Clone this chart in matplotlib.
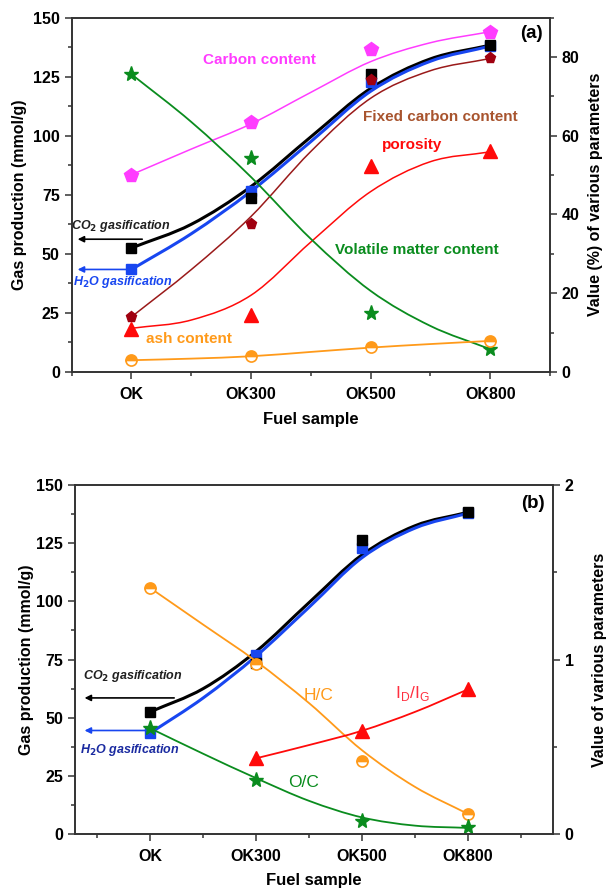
import matplotlib as mpl
mpl.use('Agg')
import matplotlib.pyplot as plt
import numpy as np
from matplotlib.path import Path
from matplotlib.patches import PathPatch
from matplotlib.ticker import MultipleLocator

plt.rcParams['font.family'] = ['Liberation Sans', 'DejaVu Sans']
plt.rcParams['font.weight'] = 'bold'

samples = ['OK', 'OK300', 'OK500', 'OK800']
xpos = [0, 1, 2, 3]
knot_x = [0, 0.5, 1, 1.5, 2, 2.5, 3]

# gas production (mmol/g), measured points
co2_gas = [52.5, 73.5, 126.2, 138.3]
h2o_gas = [43.4, 76.8, 122.8, 137.9]
# fitted curves for gas production
co2_fit = [52.5, 62.5, 78.5, 99.5, 120.0, 132.5, 138.3]
h2o_fit = [43.4, 58.5, 76.5, 97.5, 118.8, 131.5, 137.9]

# panel (a): value (%) of various parameters
carbon = [50.1, 63.4, 81.9, 86.4]
carbon_fit = [50.1, 56.6, 63.0, 71.0, 78.8, 83.6, 86.4]
fixed_c = [14.0, 37.7, 74.1, 79.6]
fixed_c_fit = [14.0, 26.0, 39.5, 56.0, 69.5, 76.5, 79.6]
porosity = [11.0, 14.4, 52.3, 56.2]
porosity_fit = [11.1, 13.2, 19.5, 33.0, 45.8, 53.4, 55.9]
volatile = [75.6, 54.4, 15.0, 5.8]
volatile_fit = [75.6, 63.5, 49.5, 33.8, 20.6, 11.7, 5.8]
ash = [3.0, 4.0, 6.4, 7.9]
ash_fit = [3.0, 3.4, 4.0, 5.1, 6.2, 7.1, 7.9]

# panel (b): value of various parameters
hc = [1.41, 0.975, 0.42, 0.115]
hc_fit = [1.41, 1.20, 0.99, 0.75, 0.48, 0.27, 0.115]
idig_x = [1, 1.5, 2, 2.5, 3]
idig = [0.434, 0.592, 0.829]
idig_fit = [0.434, 0.51, 0.592, 0.70, 0.829]
oc = [0.606, 0.31, 0.072, 0.04]
oc_fit = [0.606, 0.46, 0.32, 0.19, 0.095, 0.048, 0.035]

BLACK = '#000000'
BLUE = '#1846f0'
MAGENTA = '#ff3cff'
DRED = '#a00010'
BROWN = '#a8542e'
RED = '#ff0a0a'
GREEN = '#0a8c1e'
ORANGE = '#ff9a1a'


def smooth_curve(ax, xs, ys, color, lw):
    # Catmull-Rom style bezier through the read points
    pts = np.column_stack([xs, ys]).astype(float)
    n = len(pts)
    ext = np.vstack([2 * pts[0] - pts[1], pts, 2 * pts[-1] - pts[-2]])
    verts = [pts[0]]
    codes = [Path.MOVETO]
    for i in range(n - 1):
        p0, p1, p2, p3 = ext[i], ext[i + 1], ext[i + 2], ext[i + 3]
        verts += [p1 + (p2 - p0) / 6, p2 - (p3 - p1) / 6, p2]
        codes += [Path.CURVE4] * 3
    ax.add_patch(PathPatch(Path(verts, codes), fill=False, edgecolor=color,
                           lw=lw, capstyle='round', joinstyle='round'))


def style_axes(ax, ax2, xlim, rlim, rmajor, rminor):
    ax.set_xlim(*xlim)
    ax.set_ylim(0, 150)
    ax2.set_ylim(*rlim)
    ax.set_xticks(xpos)
    ax.set_xticklabels(samples)
    ax.set_xticks([-0.5, 0.5, 1.5, 2.5, 3.5], minor=True)
    ax.yaxis.set_major_locator(MultipleLocator(25))
    ax.yaxis.set_minor_locator(MultipleLocator(12.5))
    ax2.yaxis.set_major_locator(MultipleLocator(rmajor))
    ax2.yaxis.set_minor_locator(MultipleLocator(rminor))
    for a in (ax, ax2):
        for s in a.spines.values():
            s.set_linewidth(1.2)
            s.set_color('#333333')
        a.tick_params(which='major', direction='out', length=5, width=1.1,
                      color='#333333', labelsize=11.5)
        a.tick_params(which='minor', direction='out', length=3, width=1.1,
                      color='#333333')
    ax.tick_params(axis='x', pad=6)
    for lab in ax.get_xticklabels() + ax.get_yticklabels() + ax2.get_yticklabels():
        lab.set_fontweight('bold')
    ax.set_xlabel('Fuel sample', fontsize=12, fontweight='bold')
    ax.set_ylabel('Gas production (mmol/g)', fontsize=11.5, fontweight='bold')


def gas_series(ax):
    smooth_curve(ax, knot_x, co2_fit, BLACK, 2.2)
    smooth_curve(ax, knot_x, h2o_fit, BLUE, 2.2)
    ax.plot(xpos, h2o_gas, ls='none', marker='s', ms=7.5, color=BLUE)
    ax.plot(xpos, co2_gas, ls='none', marker='s', ms=7.5, color=BLACK)


fig = plt.figure(figsize=(6.1, 8.9), dpi=100)

# ---------------- panel (a) ----------------
ax = fig.add_axes([0.1175, 0.582, 0.7841, 0.3983])
ax2 = ax.twinx()
gas_series(ax)

smooth_curve(ax2, knot_x, carbon_fit, MAGENTA, 1.1)
ax2.plot(xpos, carbon, ls='none', marker='p', ms=10, color=MAGENTA)
smooth_curve(ax2, knot_x, fixed_c_fit, '#9a1a1a', 1.1)
ax2.plot(xpos, fixed_c, ls='none', marker='p', ms=8, color=DRED)
smooth_curve(ax2, knot_x, porosity_fit, RED, 1.1)
ax2.plot(xpos, porosity, ls='none', marker='^', ms=9.5, color=RED)
smooth_curve(ax2, knot_x, volatile_fit, GREEN, 1.3)
ax2.plot(xpos, volatile, ls='none', marker='*', ms=11, color=GREEN)
smooth_curve(ax2, knot_x, ash_fit, ORANGE, 1.3)
ax2.plot(xpos, ash, ls='none', marker='o', ms=8, color=ORANGE,
         fillstyle='top', markerfacecoloralt='white', mec=ORANGE, mew=1.2)

style_axes(ax, ax2, (-0.5, 3.5), (0, 90), 20, 10)
ax2.set_ylabel('Value (%) of various parameters', fontsize=11.5, fontweight='bold')
ax.yaxis.set_label_coords(-0.093, 0.5)
ax2.yaxis.set_label_coords(1.08, 0.5)
ax.xaxis.set_label_coords(0.5, -0.112)

ax.text(1.07, 132.2, 'Carbon content', color=MAGENTA, fontsize=11,
        fontweight='bold', ha='center', va='center')
ax.text(2.585, 107.9, 'Fixed carbon content', color=BROWN, fontsize=11,
        fontweight='bold', ha='center', va='center')
ax.text(2.35, 96.0, 'porosity', color=RED, fontsize=11,
        fontweight='bold', ha='center', va='center')
ax.text(2.39, 51.6, 'Volatile matter content', color=GREEN, fontsize=11,
        fontweight='bold', ha='center', va='center')
ax.text(0.48, 14.0, 'ash content', color=ORANGE, fontsize=11,
        fontweight='bold', ha='center', va='center')
ax.text(3.345, 143.3, '(a)', color=BLACK, fontsize=13.5,
        fontweight='bold', ha='center', va='center')

ax.annotate('', xy=(-0.45, 56.2), xytext=(0.09, 56.2),
            arrowprops=dict(arrowstyle='-|>', color=BLACK, lw=1.2,
                            mutation_scale=9, shrinkA=0, shrinkB=0))
ax.annotate('', xy=(-0.45, 43.4), xytext=(0.0, 43.4),
            arrowprops=dict(arrowstyle='-|>', color=BLUE, lw=1.2,
                            mutation_scale=9, shrinkA=0, shrinkB=0))
ax.text(-0.09, 61.8, r'CO$_\mathbf{2}$ gasification', color='#202020', fontsize=9,
        fontweight='bold', style='italic', ha='center', va='center')
ax.text(-0.075, 38.2, r'H$_\mathbf{2}$O gasification', color=BLUE, fontsize=9,
        fontweight='bold', style='italic', ha='center', va='center')

# ---------------- panel (b) ----------------
bx = fig.add_axes([0.123, 0.0629, 0.7831, 0.3921])
bx2 = bx.twinx()
gas_series(bx)

smooth_curve(bx2, knot_x, hc_fit, ORANGE, 1.3)
bx2.plot(xpos, hc, ls='none', marker='o', ms=8, color=ORANGE,
         fillstyle='top', markerfacecoloralt='white', mec=ORANGE, mew=1.2)
smooth_curve(bx2, idig_x, idig_fit, RED, 1.3)
bx2.plot(xpos[1:], idig, ls='none', marker='^', ms=9.5, color=RED)
smooth_curve(bx2, knot_x, oc_fit, GREEN, 1.3)
bx2.plot(xpos, oc, ls='none', marker='*', ms=11, color=GREEN)

style_axes(bx, bx2, (-0.71, 3.8), (0, 2), 1, 0.5)
bx2.set_ylabel('Value of various parameters', fontsize=11.5, fontweight='bold')
bx.yaxis.set_label_coords(-0.085, 0.5)
bx2.yaxis.set_label_coords(1.083, 0.5)
bx.xaxis.set_label_coords(0.5, -0.112)

bx.text(1.585, 59.5, 'H/C', color=ORANGE, fontsize=12.5, fontweight='normal',
        ha='center', va='center')
bx.text(2.47, 60.2, r'I$_\mathregular{D}$/I$_\mathregular{G}$', color='#ff3040',
        fontsize=12.5, fontweight='normal', ha='center', va='center')
bx.text(1.443, 22.1, 'O/C', color=GREEN, fontsize=12.5, fontweight='normal',
        ha='center', va='center')
bx.text(3.613, 142.0, '(b)', color=BLACK, fontsize=13.5,
        fontweight='bold', ha='center', va='center')

bx.annotate('', xy=(-0.62, 58.5), xytext=(0.226, 58.5),
            arrowprops=dict(arrowstyle='-|>', color=BLACK, lw=1.2,
                            mutation_scale=9, shrinkA=0, shrinkB=0))
bx.annotate('', xy=(-0.62, 44.5), xytext=(0.0, 44.5),
            arrowprops=dict(arrowstyle='-|>', color=BLUE, lw=1.2,
                            mutation_scale=9, shrinkA=0, shrinkB=0))
bx.text(-0.16, 68.1, r'CO$_\mathbf{2}$ gasification', color='#202020', fontsize=9,
        fontweight='bold', style='italic', ha='center', va='center')
bx.text(-0.19, 35.9, r'H$_\mathbf{2}$O gasification', color='#1a2aa0', fontsize=9,
        fontweight='bold', style='italic', ha='center', va='center')

fig.savefig('out.png', dpi=100)
